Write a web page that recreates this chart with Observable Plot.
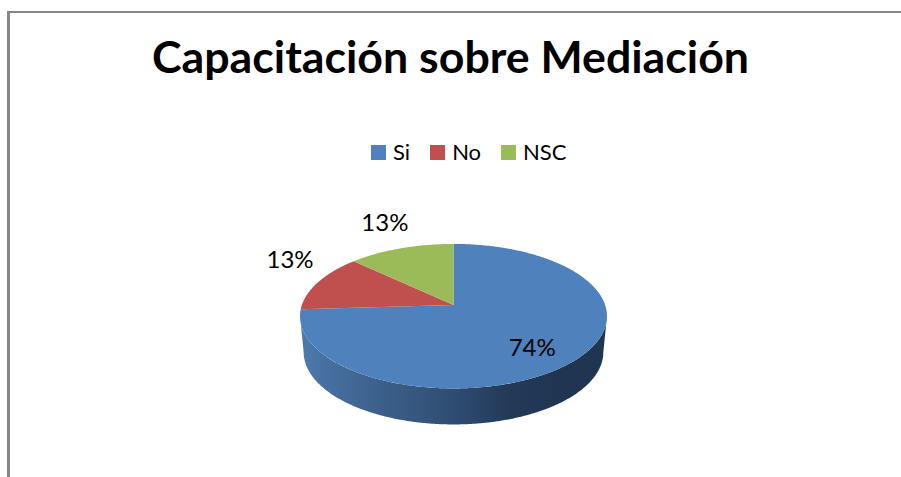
<!DOCTYPE html>
<html>
<head>
<meta charset="utf-8">
<script src="https://cdn.jsdelivr.net/npm/d3@7"></script>
<script src="https://cdn.jsdelivr.net/npm/@observablehq/plot@0.6"></script>
<style>
  html, body { margin: 0; padding: 0; background: #fff; overflow: hidden; }
  #frame { position: absolute; left: 7px; top: 11px; width: 900px; height: 480px;
           border-top: 2px solid #868686; border-left: 3px solid #868686; box-sizing: border-box; }
  #title { position: absolute; left: 0; top: 29px; width: 901px; text-align: center;
           font: 700 44.7px/54px Lato, sans-serif; color: #000; white-space: nowrap; }
  #legend { position: absolute; left: 371px; top: 138px; height: 28px; display: flex; align-items: center;
            font: 400 22px/28px Lato, sans-serif; color: #000; }
  #legend i { display: inline-block; width: 15px; height: 15px; margin-right: 7px; }
  #legend span { display: inline-block; margin-right: 20px; }
  #chart { position: absolute; left: 0; top: 190px; }
</style>
</head>
<body>
<div id="frame"></div>
<div id="title"></div>
<div id="legend"></div>
<div id="chart"></div>
<script>
const titleText = "Capacitación sobre Mediación";
const categories = ["Si", "No", "NSC"];
const shares = [74, 13, 13];
const labels = ["74%", "13%", "13%"];
const colors = ["#4f81bd", "#c0504d", "#9bbb59"];

// perspective disc geometry (plot units are pixels relative to the pie's centre)
const persp = 0.156, A = 70.5, B = 151.6, B2 = 148, depth = 36;
const project = (turn, b = B, dy = 0) => {
  const a = turn * 2 * Math.PI, c = Math.sin(a), s = -Math.cos(a), d = 1 - persp * s;
  return {x: b * c / d, y: dy + A * s / d};
};

// slices from the values
const total = d3.sum(shares);
let acc = 0;
const slices = categories.map((name, i) => {
  const t0 = acc / total; acc += shares[i]; const t1 = acc / total;
  const pts = [{name, x: 0, y: 0}];
  const n = Math.ceil((t1 - t0) * 720);
  for (let k = 0; k <= n; ++k) pts.push({name, ...project(t0 + (t1 - t0) * k / n)});
  return {name, pts, mid: (t0 + t1) / 2, label: labels[i]};
});

// front wall between the two silhouette points of the disc
const edge = Math.asin(persp) / (2 * Math.PI);
const wallTurns = d3.range(0, 361).map(k => 0.25 + edge + (0.5 - 2 * edge) * k / 360);
const wall = [
  ...wallTurns.map(t => project(t, B, 0)),
  ...wallTurns.slice().reverse().map(t => project(t, B2, depth))
];

// label placement relative to each slice's mid-point on the rim
const labelShift = [[-45, -11], [-28, -22], [-16, -25]];

const defs = () => {
  const d = d3.create("svg:defs");
  const g = d.append("linearGradient").attr("id", "wall");
  [[0, "#4d7aae"], [0.12, "#446c9c"], [0.3, "#3a5d87"], [0.5, "#2f4d72"], [0.68, "#233a58"], [0.85, "#1f3552"], [1, "#1f3550"]]
    .forEach(([o, c]) => g.append("stop").attr("offset", o).attr("stop-color", c));
  return d.node();
};

const chart = Plot.plot({
  width: 901, height: 287, margin: 0,
  style: {background: "transparent", overflow: "visible"},
  x: {domain: [-453, 448], axis: null},
  y: {domain: [172.6, -114.4], axis: null},
  color: {domain: categories, range: colors},
  marks: [
    defs,
    Plot.line(wall, {x: "x", y: "y", fill: "url(#wall)", stroke: "none"}),
    ...slices.map(s => Plot.line(s.pts, {x: "x", y: "y", fill: "name", stroke: "none"})),
    ...slices.map((s, i) => Plot.text([s], {
      x: d => project(d.mid).x, y: d => project(d.mid).y, text: "label",
      dx: labelShift[i][0], dy: labelShift[i][1],
      fontSize: 24, fontFamily: "Lato, sans-serif", fill: "#000"
    }))
  ]
});
document.getElementById("chart").append(chart);
document.getElementById("title").textContent = titleText;
const legend = d3.select("#legend");
categories.forEach((c, i) => {
  legend.append("i").style("background", colors[i]);
  legend.append("span").text(c);
});
</script>
</body>
</html>
